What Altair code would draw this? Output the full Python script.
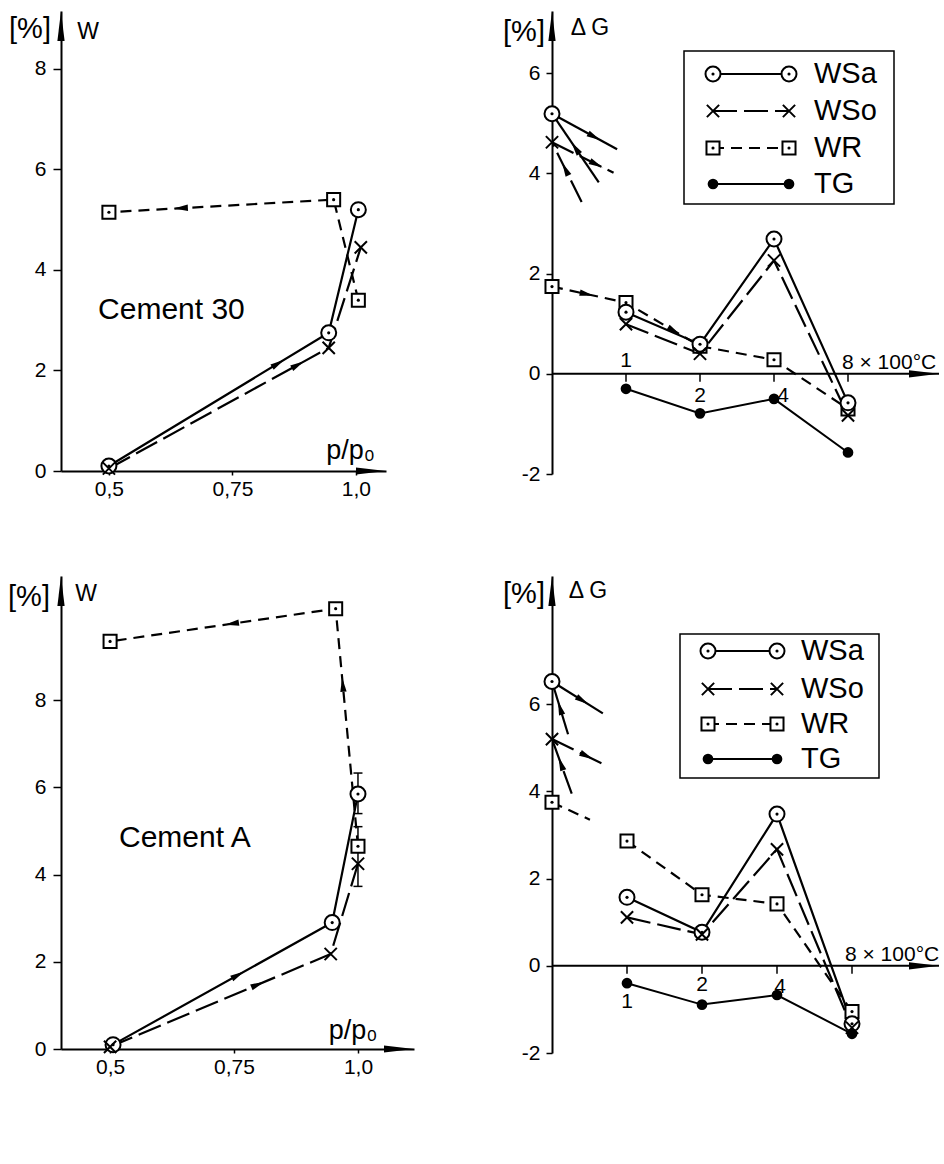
import math
import altair as alt
import pandas as pd

FONT = "Liberation Sans"

# ------------------------------------------------------------------ data
# Cement 30 (top left): water uptake W [%] against p/p0
c30_wsa_x = [0.5, 0.945, 1.005]
c30_wsa_y = [0.1, 2.75, 5.2]
c30_wso_x = [0.5, 0.945, 1.01]
c30_wso_y = [0.05, 2.45, 4.45]
c30_wr_x = [1.005, 0.955, 0.5]
c30_wr_y = [3.4, 5.4, 5.15]

# Cement A (bottom left)
ca_wsa_x = [0.506, 0.948, 1.0]
ca_wsa_y = [0.1, 2.9, 5.85]
ca_wso_x = [0.5, 0.945, 1.0]
ca_wso_y = [0.05, 2.18, 4.25]
ca_wr_x = [1.0, 0.955, 0.5]
ca_wr_y = [4.65, 10.1, 9.35]
ca_err_x = [1.0, 1.0]
ca_err_lo = [5.4, 3.73]
ca_err_hi = [6.33, 5.1]

# Delta G [%] against temperature (x 100 degC); initial state plotted on the y axis
temps = [1, 2, 4, 8]
axis_x = 0.5
temp_labels = ["1", "2", "4", "8 × 100°C"]

# Cement 30 (top right)
tr_wsa = [1.23, 0.59, 2.69, -0.58]
tr_wso = [0.99, 0.40, 2.26, -0.83]
tr_wr = [1.74, 1.42, 0.55, 0.28, -0.70]       # starts at the initial state
tr_tg = [-0.30, -0.79, -0.50, -1.57]
tr_wsa0 = 5.19
tr_wso0 = 4.62
tr_stub_wsa_out = ([0.5, 0.92], [5.19, 4.48])
tr_stub_wsa_in = ([0.775, 0.5], [3.82, 5.19])
tr_stub_wso_out = ([0.5, 0.89], [4.62, 4.01])
tr_stub_wso_in = ([0.66, 0.5], [3.43, 4.62])

# Cement A (bottom right)
br_wsa = [1.57, 0.77, 3.48, -1.33]
br_wso = [1.11, 0.72, 2.67, -1.42]
br_wr = [2.86, 1.63, 1.42, -1.05]
br_tg = [-0.40, -0.89, -0.67, -1.56]
br_wsa0 = 6.52
br_wso0 = 5.2
br_wr0 = 3.75
br_stub_wsa_out = ([0.5, 0.80], [6.52, 5.79])
br_stub_wsa_in = ([0.58, 0.5], [5.31, 6.52])
br_stub_wso_out = ([0.5, 0.82], [5.2, 4.6])
br_stub_wso_in = ([0.6, 0.5], [3.95, 5.2])
br_stub_wr_out = ([0.5, 0.71], [3.75, 3.35])

series_names = ["WSa", "WSo", "WR", "TG"]
p_ticks = [0.5, 0.75, 1.0]
p_tick_labels = ["0,5", "0,75", "1,0"]

# ------------------------------------------------------------------ styles
X_SHAPE = "M-1,-1L1,1M-1,1L1,-1"
UP_ARROW = "M0,-1L0.24,1L-0.24,1Z"
RIGHT_ARROW = "M1,0L-1,0.24L-1,-0.24Z"
HEAD = "M1,0L-1,0.45L-1,-0.45Z"
DASH = {"WSa": None, "WSo": [24, 7], "WR": [11, 7], "TG": None}
LW = 2.2
ONE = alt.Data(values=[{}])


def p_label_expr():
    parts = [f"datum.value == {v} ? '{l}'" for v, l in zip(p_ticks, p_tick_labels)]
    return " : ".join(parts) + " : ''"


class Panel:
    def __init__(self, w, h, xdom, ydom, xlog, xaxis, yaxis):
        self.w, self.h, self.xdom, self.ydom, self.xlog = w, h, xdom, ydom, xlog
        if xlog:
            self.xs = alt.Scale(type="log", base=2, domain=xdom, nice=False)
        else:
            self.xs = alt.Scale(domain=xdom, nice=False, zero=False)
        self.ys = alt.Scale(domain=ydom, nice=False, zero=False)
        self.xaxis, self.yaxis = xaxis, yaxis
        self.layers = []

    def X(self, f):
        return alt.X(f, type="quantitative", scale=self.xs, axis=self.xaxis)

    def Y(self, f):
        return alt.Y(f, type="quantitative", scale=self.ys, axis=self.yaxis)

    def XD(self, v):
        return alt.XDatum(v, type="quantitative", scale=self.xs, axis=self.xaxis)

    def YD(self, v):
        return alt.YDatum(v, type="quantitative", scale=self.ys, axis=self.yaxis)

    # pixel helpers (for arrow-head orientation only)
    def fx(self, x):
        a, b = self.xdom
        if self.xlog:
            return self.w * (math.log2(x) - math.log2(a)) / (math.log2(b) - math.log2(a))
        return self.w * (x - a) / (b - a)

    def fy(self, y):
        a, b = self.ydom
        return self.h * (y - a) / (b - a)

    def ix(self, p):
        a, b = self.xdom
        if self.xlog:
            return 2 ** (math.log2(a) + p / self.w * (math.log2(b) - math.log2(a)))
        return a + p / self.w * (b - a)

    def iy(self, p):
        a, b = self.ydom
        return a + p / self.h * (b - a)

    def add(self, *ls):
        self.layers.extend(ls)

    def line(self, xs, ys, name, width=LW):
        df = pd.DataFrame({"x": xs, "y": ys, "i": list(range(len(xs)))})
        kw = dict(color="black", strokeWidth=width)
        if DASH[name]:
            kw["strokeDash"] = DASH[name]
        self.add(alt.Chart(df).mark_line(**kw).encode(
            x=self.X("x"), y=self.Y("y"), order=alt.Order("i:Q")))

    def markers(self, xs, ys, name):
        df = pd.DataFrame({"x": xs, "y": ys})
        base = alt.Chart(df).encode(x=self.X("x"), y=self.Y("y"))
        self.add(*marker_marks(base, name))

    def heads(self, specs):
        rows = []
        for (xs, ys), seg, t in specs:
            x0, y0 = self.fx(xs[seg]), self.fy(ys[seg])
            x1, y1 = self.fx(xs[seg + 1]), self.fy(ys[seg + 1])
            px, py = x0 + t * (x1 - x0), y0 + t * (y1 - y0)
            ang = math.degrees(math.atan2(-(y1 - y0), x1 - x0)) % 360
            rows.append({"x": self.ix(px), "y": self.iy(py), "a": ang})
        df = pd.DataFrame(rows)
        self.add(alt.Chart(df).mark_point(shape=HEAD, size=200, filled=True, color="black",
                                          opacity=1).encode(
            x=self.X("x"), y=self.Y("y"), angle=alt.Angle("a:Q", scale=None)))

    def text(self, x, y, s, size, dx=0, dy=0, align="center"):
        self.add(alt.Chart(ONE).mark_text(text=s, font=FONT, fontSize=size, color="black", dx=dx,
                                          dy=dy, align=align, baseline="middle").encode(
            x=self.XD(x), y=self.YD(y)))

    def axis_arrows(self, y_axis_at):
        self.add(alt.Chart(ONE).mark_point(shape=UP_ARROW, size=900, filled=True, color="black",
                                           opacity=1, yOffset=15).encode(
            x=self.XD(self.xdom[0]), y=self.YD(self.ydom[1])))
        self.add(alt.Chart(ONE).mark_point(shape=RIGHT_ARROW, size=900, filled=True, color="black",
                                           opacity=1, xOffset=-15).encode(
            x=self.XD(self.xdom[1]), y=self.YD(y_axis_at)))

    def legend(self, box, rows_y, sx0, sx1, tx, fsize):
        self.add(alt.Chart(ONE).mark_rect(fill="white", stroke="black", strokeWidth=1.5).encode(
            x=alt.value(box[0]), x2=alt.value(box[1]), y=alt.value(box[2]), y2=alt.value(box[3])))
        for name, yy in zip(series_names, rows_y):
            kw = dict(color="black", strokeWidth=LW)
            if DASH[name]:
                kw["strokeDash"] = DASH[name]
            self.add(alt.Chart(ONE).mark_rule(**kw).encode(
                x=alt.value(sx0), x2=alt.value(sx1), y=alt.value(yy)))
            for sx in (sx0, sx1):
                base = alt.Chart(ONE).encode(x=alt.value(sx), y=alt.value(yy))
                self.add(*marker_marks(base, name))
            self.add(alt.Chart(ONE).mark_text(text=name, font=FONT, fontSize=fsize, color="black",
                                              align="left", baseline="middle").encode(
                x=alt.value(tx), y=alt.value(yy)))

    def chart(self):
        return alt.layer(*self.layers).properties(width=self.w, height=self.h)


def marker_marks(base, name):
    if name == "WSa":
        return [base.mark_point(shape="circle", size=225, filled=True, fill="white", stroke="black",
                                strokeWidth=2, opacity=1),
                base.mark_point(shape="circle", size=10, filled=True, color="black", opacity=1)]
    if name == "WR":
        return [base.mark_point(shape="square", size=170, filled=True, fill="white", stroke="black",
                                strokeWidth=2, opacity=1),
                base.mark_point(shape="circle", size=10, filled=True, color="black", opacity=1)]
    if name == "WSo":
        return [base.mark_point(shape=X_SHAPE, size=150, filled=False, color="black",
                                strokeWidth=2, opacity=1)]
    return [base.mark_point(shape="circle", size=115, filled=True, color="black", opacity=1)]


def left_axes(yvals):
    xa = alt.Axis(values=p_ticks, labelExpr=p_label_expr(), tickSize=4, tickWidth=1.5,
                  tickColor="black", domainColor="black", domainWidth=2, labelFontSize=21,
                  labelFont=FONT, labelColor="black", labelPadding=3, grid=False, title=None,
                  labelFlush=False)
    ya = alt.Axis(values=yvals, tickSize=8, tickWidth=1.5, tickColor="black",
                  domainColor="black", domainWidth=2, labelFontSize=21, labelFont=FONT,
                  labelColor="black", labelPadding=7, grid=False, title=None, labelFlush=False)
    return xa, ya


def right_yaxis():
    return alt.Axis(values=[-2, 0, 2, 4, 6], tickSize=6, tickWidth=1.5, tickColor="black",
                    domainColor="black", domainWidth=2, labelFontSize=21, labelFont=FONT,
                    labelColor="black", labelPadding=6, grid=False, title=None, labelFlush=False,
                    labelExpr="replace(toString(datum.value), '−', '-')")


# ------------------------------------------------------------------ top left
xa, ya = left_axes([0, 2, 4, 6, 8])
P1 = Panel(325, 460, [0.403, 1.061], [0, 9.154], False, xa, ya)
P1.add(alt.Chart(ONE).mark_rule(color="white").encode(
    x=alt.value(-60), x2=alt.value(-58), y=alt.value(-10), y2=alt.value(-8)))
P1.axis_arrows(0)
P1.line(c30_wr_x, c30_wr_y, "WR")
P1.line(c30_wso_x, c30_wso_y, "WSo")
P1.line(c30_wsa_x, c30_wsa_y, "WSa")
P1.heads([((c30_wsa_x, c30_wsa_y), 0, 0.77), ((c30_wso_x, c30_wso_y), 0, 0.86),
          ((c30_wr_x, c30_wr_y), 1, 0.68)])
P1.markers(c30_wr_x, c30_wr_y, "WR")
P1.markers(c30_wsa_x, c30_wsa_y, "WSa")
P1.markers(c30_wso_x, c30_wso_y, "WSo")
P1.text(0.478, 3.2, "Cement 30", 30, align="left")
P1.text(0.94, 0.40, "p/p₀", 27, align="left")
P1.text(0.403, 9.154, "[%]", 29, dx=-31, dy=18)
P1.text(0.403, 9.154, "W", 23, dx=27, dy=21)

# ------------------------------------------------------------------ top right
P2 = Panel(387, 463, [axis_x, axis_x * 2 ** (387 / 74)], [-2, 7.24], True, None, right_yaxis())
P2.add(alt.Chart(ONE).mark_rule(color="black", strokeWidth=2).encode(
    x=P2.XD(P2.xdom[0]), x2=alt.X2Datum(P2.xdom[1]), y=P2.YD(0)))
P2.add(alt.Chart(pd.DataFrame({"t": temps})).mark_tick(
    orient="vertical", size=8, thickness=1.5, color="black", yOffset=4, opacity=1).encode(
    x=P2.X("t"), y=P2.YD(0)))
P2.axis_arrows(0)
tr_wr_x = [axis_x] + temps
P2.line(tr_wr_x, tr_wr, "WR")
P2.line(temps, tr_wso, "WSo")
P2.line(temps, tr_wsa, "WSa")
P2.line(temps, tr_tg, "TG", width=2)
for st, nm in [(tr_stub_wsa_out, "WSa"), (tr_stub_wsa_in, "WSa"),
               (tr_stub_wso_out, "WSo"), (tr_stub_wso_in, "WSo")]:
    P2.line(st[0], st[1], nm)
P2.heads([((tr_wr_x, tr_wr), 0, 0.47), ((tr_wr_x, tr_wr), 1, 0.65),
          (tr_stub_wsa_out, 0, 0.65), (tr_stub_wsa_in, 0, 0.5),
          (tr_stub_wso_out, 0, 0.72), (tr_stub_wso_in, 0, 0.55)])
P2.markers(tr_wr_x, tr_wr, "WR")
P2.markers(temps + [axis_x], tr_wsa + [tr_wsa0], "WSa")
P2.markers(temps + [axis_x], tr_wso + [tr_wso0], "WSo")
P2.markers(temps, tr_tg, "TG")
for t, lab, dx, dy, al in zip(temps, temp_labels, [0, 0, 9, -6], [-13, 22, 22, -11],
                              ["center", "center", "center", "left"]):
    P2.text(t, 0, lab, 21, dx=dx, dy=dy, align=al)
P2.text(axis_x, 7.24, "[%]", 29, dx=-28, dy=21)
P2.text(axis_x, 7.24, "Δ G", 23, dx=38, dy=17)
P2.legend((132, 342, 40, 193), [63, 100, 137, 173], 161, 237, 262, 29)

# ------------------------------------------------------------------ bottom left
xa, ya = left_axes([0, 2, 4, 6, 8])
P3 = Panel(353, 473, [0.401, 1.113], [0, 10.85], False, xa, ya)
P3.axis_arrows(0)
P3.line(ca_wr_x, ca_wr_y, "WR")
P3.line(ca_wso_x, ca_wso_y, "WSo")
P3.line(ca_wsa_x, ca_wsa_y, "WSa")
err = pd.DataFrame({"x": ca_err_x, "lo": ca_err_lo, "hi": ca_err_hi})
P3.add(alt.Chart(err).mark_rule(color="black", strokeWidth=1.5).encode(
    x=P3.X("x"), y=P3.Y("lo"), y2=alt.Y2("hi")))
for f in ("lo", "hi"):
    P3.add(alt.Chart(err).mark_tick(orient="horizontal", size=9, thickness=1.5, color="black",
                                    opacity=1).encode(x=P3.X("x"), y=P3.Y(f)))
P3.heads([((ca_wsa_x, ca_wsa_y), 0, 0.57), ((ca_wso_x, ca_wso_y), 0, 0.67),
          ((ca_wr_x, ca_wr_y), 0, 0.68), ((ca_wr_x, ca_wr_y), 1, 0.46)])
P3.markers(ca_wr_x, ca_wr_y, "WR")
P3.markers(ca_wsa_x, ca_wsa_y, "WSa")
P3.markers(ca_wso_x, ca_wso_y, "WSo")
P3.text(0.518, 4.84, "Cement  A", 30, align="left")
P3.text(0.941, 0.41, "p/p₀", 27, align="left")
P3.text(0.401, 10.85, "[%]", 29, dx=-32, dy=21)
P3.text(0.401, 10.85, "W", 23, dx=25, dy=18)

# ------------------------------------------------------------------ bottom right
P4 = Panel(387, 477, [axis_x, axis_x * 2 ** (387 / 75)], [-2, 8.94], True, None, right_yaxis())
P4.add(alt.Chart(ONE).mark_rule(color="black", strokeWidth=2).encode(
    x=P4.XD(P4.xdom[0]), x2=alt.X2Datum(P4.xdom[1]), y=P4.YD(0)))
P4.add(alt.Chart(pd.DataFrame({"t": temps})).mark_tick(
    orient="vertical", size=8, thickness=1.5, color="black", yOffset=4, opacity=1).encode(
    x=P4.X("t"), y=P4.YD(0)))
P4.axis_arrows(0)
P4.line(temps, br_wr, "WR")
P4.line(temps, br_wso, "WSo")
P4.line(temps, br_wsa, "WSa")
P4.line(temps, br_tg, "TG", width=2)
for st, nm in [(br_stub_wsa_out, "WSa"), (br_stub_wsa_in, "WSa"), (br_stub_wso_out, "WSo"),
               (br_stub_wso_in, "WSo"), (br_stub_wr_out, "WR")]:
    P4.line(st[0], st[1], nm)
P4.heads([(br_stub_wsa_out, 0, 0.6), (br_stub_wsa_in, 0, 0.5),
          (br_stub_wso_out, 0, 0.65), (br_stub_wso_in, 0, 0.55)])
P4.markers(temps + [axis_x], br_wr + [br_wr0], "WR")
P4.markers(temps + [axis_x], br_wsa + [br_wsa0], "WSa")
P4.markers(temps + [axis_x], br_wso + [br_wso0], "WSo")
P4.markers(temps, br_tg, "TG")
for t, lab, dx, dy, al in zip(temps, temp_labels, [0, 0, 3, -7], [36, 19, 21, -11],
                              ["center", "center", "center", "left"]):
    P4.text(t, 0, lab, 21, dx=dx, dy=dy, align=al)
P4.text(axis_x, 8.94, "[%]", 29, dx=-28, dy=18)
P4.text(axis_x, 8.94, "Δ G", 23, dx=36, dy=15)
P4.legend((128, 327, 58, 202), [75, 113, 148, 183], 156, 225, 249, 29)

# ------------------------------------------------------------------ assemble
chart = alt.concat(
    P1.chart(), P2.chart(), P3.chart(), P4.chart(),
    columns=2, spacing={"row": 102, "column": 138}, bounds="flush", align="each",
).properties(padding=0, background="white").configure_view(stroke=None)

chart.save("out.html", embed_options={"renderer": "svg", "actions": False})
